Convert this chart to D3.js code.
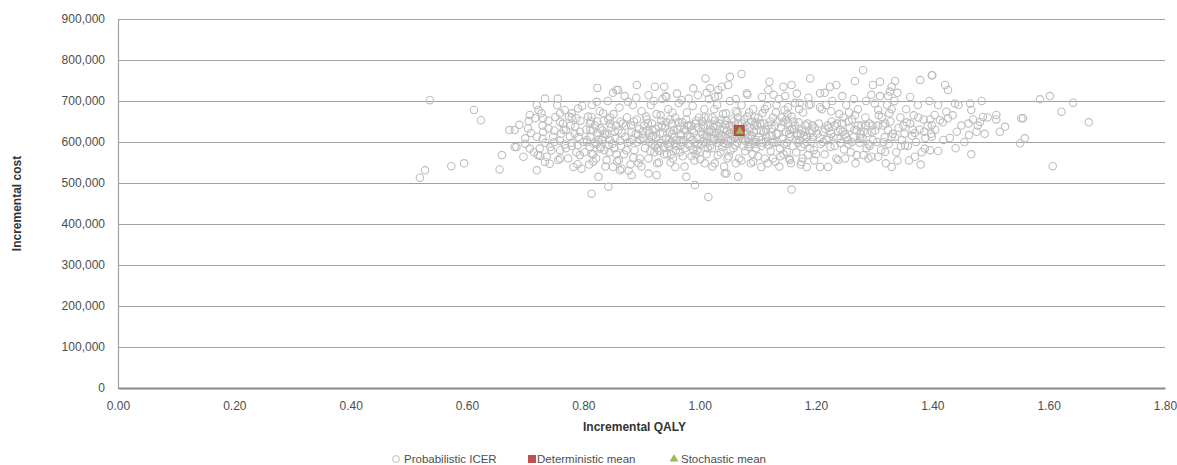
<!DOCTYPE html>
<html><head><meta charset="utf-8">
<script src="https://cdn.jsdelivr.net/npm/d3@7"></script>
<style>
body{margin:0;background:#fff}
svg{display:block}
text{font-family:"Liberation Sans",Arial,sans-serif}
</style>
</head><body>
<svg id="chart" width="1177" height="465"></svg>
<script>
// ---------- data ----------
const xTickValues = [0, 0.2, 0.4, 0.6, 0.8, 1.0, 1.2, 1.4, 1.6, 1.8];
const yTickValues = [0, 100000, 200000, 300000, 400000, 500000, 600000, 700000, 800000, 900000];
const xTitle = "Incremental QALY";
const yTitle = "Incremental cost";
const legendLabels = ["Probabilistic ICER", "Deterministic mean", "Stochastic mean"];

// probabilistic ICER samples: [incremental QALY, incremental cost in thousands]
const probabilisticSamples = [
[0.536,702],[0.612,678],[0.624,653],[0.673,629],[0.682,588],[0.66,568],[0.656,533],[0.595,548],[0.573,541],[0.528,531],[0.519,513],
[0.824,732],[0.734,706],[0.756,706],[0.823,698],[0.857,727],[0.708,666],[0.717,658],[0.723,678],[0.728,670],[0.731,658],[0.760,670],[0.768,678],[0.780,670],[0.791,682],[0.788,658],[0.760,649],[0.814,661],[0.834,670],[0.846,645],
[0.682,629],[0.705,633],[0.731,625],[0.740,633],[0.766,629],[0.786,637],[0.794,625],[0.811,645],[0.829,633],[0.837,621],[0.700,609],[0.720,613],[0.748,613],[0.777,613],[0.806,605],[0.820,600],[0.846,605],
[0.685,588],[0.708,584],[0.725,584],[0.743,588],[0.760,580],[0.780,590],[0.811,588],[0.829,584],[0.697,564],[0.722,568],[0.737,564],[0.757,556],[0.774,560],[0.794,568],[0.814,572],[0.840,556],
[0.720,531],[0.734,552],[0.783,539],[0.797,535],[0.817,552],[0.851,539],[0.826,515],[0.843,491],[0.814,474],[0.863,531],
[0.892,739],[0.923,735],[0.939,735],[0.860,727],[0.989,731],[1.010,755],[1.018,731],[1.032,727],[0.912,714],[0.943,710],[0.877,698],[0.969,702],[0.997,714],[1.026,710],
[1.015,466],[0.992,495],[0.977,515],[0.958,539],[0.926,519],[0.912,523],[0.883,519],[0.866,535],[0.897,560],[1.043,523],
[1.072,766],[1.052,759],[1.190,755],[1.120,747],[1.144,735],[1.158,739],[1.049,739],[1.038,735],[1.118,727],[1.207,719],[1.081,719],
[1.158,484],[1.106,539],[1.066,515],[1.046,523],[1.184,539],[1.207,539],[1.126,560],[1.155,556],[1.175,552],
[1.281,775],[1.267,749],[1.298,739],[1.310,747],[1.336,749],[1.330,735],[1.327,723],[1.324,712],[1.379,751],[1.399,763],[1.235,739],[1.224,735],[1.362,710],
[1.330,539],[1.370,564],[1.307,564],[1.319,576],[1.295,564],[1.270,568],[1.238,556],[1.221,539],[1.387,584],[1.353,592],[1.399,613],
[1.301,694],[1.307,678],[1.313,661],[1.319,645],[1.324,629],[1.330,613],
[1.400,763],[1.422,739],[1.427,727],[1.485,700],[1.465,694],[1.445,690],[1.439,694],[1.467,678],[1.424,674],[1.404,666],[1.487,661],[1.510,666],[1.510,655],[1.525,637],[1.553,658],[1.482,649],[1.462,645],[1.427,658],[1.413,653],[1.399,641],[1.442,625],[1.476,625],[1.516,625],[1.463,617],[1.419,605],[1.551,597],[1.559,609],[1.467,570],[1.396,580],
[1.585,704],[1.602,712],[1.642,696],[1.622,674],[1.556,658],[1.607,541],[1.669,648],
[0.69,642],[0.70,596],[0.71,622],[0.715,575],[0.72,690],[0.73,640],[0.735,598],[0.74,652],[0.745,579],[0.75,628],[0.755,690],[0.76,603],[0.765,645],[0.77,585],[0.775,662],[0.78,598],[0.785,620],[0.79,546],[0.795,652],[0.80,600],[0.742,547],[0.752,661],[0.768,594],[0.788,575],[0.798,688],[0.706,651],[0.726,566],[0.762,620],[0.778,640],[0.792,612],
[0.802,575],[0.805,630],[0.808,662],[0.81,545],[0.812,612],[0.815,690],[0.818,596],[0.82,640],[0.822,560],[0.825,622],[0.828,675],[0.83,588],[0.832,605],[0.835,652],[0.838,540],[0.84,618],[0.842,700],[0.845,575],[0.848,636],[0.85,596],[0.852,668],[0.855,610],[0.858,553],[0.86,628],[0.862,684],[0.865,590],[0.868,645],[0.87,570],[0.872,612],[0.875,660],[0.878,530],[0.88,600],[0.882,640],[0.885,690],[0.888,580],[0.89,620],[0.892,655],[0.895,548],[0.898,605],[0.90,675],[0.806,600],[0.816,628],[0.826,606],[0.836,580],[0.846,660],[0.856,640],[0.866,622],[0.876,598],[0.886,562],[0.896,632],[0.813,650],[0.833,628],[0.853,585],[0.873,640],[0.893,600],[0.823,595],[0.843,655],[0.863,603],[0.883,625],[0.851,720],[0.871,712],[0.891,708],[0.861,556],[0.881,545],
[0.902,610],[0.904,640],[0.906,585],[0.908,662],[0.91,628],[0.912,560],[0.914,600],[0.916,690],[0.918,645],[0.92,615],[0.922,575],[0.924,632],[0.926,668],[0.928,596],[0.93,550],[0.932,620],[0.934,652],[0.936,705],[0.938,588],[0.94,635],[0.942,608],[0.944,570],[0.946,680],[0.948,625],[0.95,598],[0.952,645],[0.954,560],[0.956,612],[0.958,660],[0.96,590],[0.962,630],[0.964,695],[0.966,575],[0.968,618],[0.97,648],[0.972,605],[0.974,540],[0.976,628],[0.978,672],[0.98,595],[0.982,640],[0.984,612],[0.986,565],[0.988,688],[0.99,622],[0.992,600],[0.994,652],[0.996,580],[0.998,635],
[0.905,603],[0.915,578],[0.925,610],[0.935,640],[0.945,595],[0.955,628],[0.965,605],[0.975,585],[0.985,640],[0.995,610],[0.909,655],[0.919,595],[0.929,638],[0.939,570],[0.949,655],[0.959,580],[0.969,600],[0.979,615],[0.989,580],[0.999,660],[0.913,622],[0.923,590],[0.933,598],[0.943,648],[0.953,620],[0.963,648],[0.973,630],[0.983,590],[0.993,570],[0.917,612],[0.927,548],[0.937,622],[0.947,606],[0.957,595],[0.967,638],[0.977,655],[0.987,605],[0.997,595],[0.921,700],[0.941,712],[0.961,718],[0.981,706],[0.931,578],[0.951,570],[0.971,565],[0.991,555],
[1.002,625],[1.004,650],[1.006,600],[1.008,680],[1.01,615],[1.012,570],[1.014,640],[1.016,705],[1.018,590],[1.02,630],[1.022,660],[1.024,608],[1.026,548],[1.028,622],[1.03,690],[1.032,598],[1.034,645],[1.036,575],[1.038,615],[1.04,668],[1.042,630],[1.044,595],[1.046,652],[1.048,560],[1.05,620],[1.052,700],[1.054,605],[1.056,640],[1.058,585],[1.06,612],[1.062,675],[1.064,598],[1.066,645],[1.068,560],[1.07,630],[1.072,690],[1.074,608],[1.076,655],[1.078,578],[1.08,620],[1.082,662],[1.084,600],[1.086,635],[1.088,548],[1.09,615],[1.092,680],[1.094,595],[1.096,648],[1.098,628],
[1.003,595],[1.013,612],[1.023,638],[1.033,622],[1.043,612],[1.053,580],[1.063,628],[1.073,645],[1.083,610],[1.093,625],[1.007,640],[1.017,625],[1.027,605],[1.037,655],[1.047,628],[1.057,618],[1.067,608],[1.077,635],[1.087,595],[1.097,605],[1.001,558],[1.011,598],[1.021,585],[1.031,568],[1.041,598],[1.051,640],[1.061,592],[1.071,615],[1.081,640],[1.091,570],[1.005,618],[1.015,660],[1.025,680],[1.035,632],[1.045,670],[1.055,655],[1.065,672],[1.075,590],[1.085,672],[1.095,660],[1.009,548],[1.019,610],[1.029,640],[1.039,588],[1.049,602],[1.059,650],[1.069,618],[1.079,602],[1.089,650],[1.099,640],[1.012,720],[1.032,712],[1.062,705],[1.082,715],[1.042,540],[1.062,548],[1.092,552],[1.022,540],[1.072,555],[1.097,585],
[1.102,612],[1.104,645],[1.106,590],[1.108,670],[1.11,625],[1.112,560],[1.114,600],[1.116,688],[1.118,640],[1.12,615],[1.122,578],[1.124,632],[1.126,660],[1.128,598],[1.13,552],[1.132,620],[1.134,650],[1.136,705],[1.138,585],[1.14,635],[1.142,608],[1.144,570],[1.146,678],[1.148,625],[1.15,598],[1.152,645],[1.154,560],[1.156,612],[1.158,662],[1.16,590],[1.162,630],[1.164,695],[1.166,575],[1.168,618],[1.17,648],[1.172,605],[1.174,545],[1.176,628],[1.178,672],[1.18,595],[1.182,640],[1.184,612],[1.186,568],[1.188,690],[1.19,622],[1.192,600],[1.194,640],[1.196,580],[1.198,635],
[1.105,628],[1.115,612],[1.125,600],[1.135,620],[1.145,595],[1.155,630],[1.165,605],[1.175,588],[1.185,645],[1.195,612],[1.109,598],[1.119,592],[1.129,640],[1.139,565],[1.149,655],[1.159,632],[1.169,598],[1.179,615],[1.189,585],[1.101,660],[1.111,645],[1.121,650],[1.131,672],[1.141,660],[1.151,668],[1.161,650],[1.171,680],[1.181,625],[1.191,692],[1.107,710],[1.127,715],[1.147,712],[1.167,718],[1.187,708],[1.117,548],[1.137,540],[1.157,548],[1.177,560],[1.197,555],
[1.202,620],[1.205,645],[1.208,595],[1.21,680],[1.212,625],[1.215,570],[1.218,605],[1.22,640],[1.222,635],[1.225,588],[1.228,700],[1.23,612],[1.232,640],[1.235,560],[1.238,625],[1.24,668],[1.242,598],[1.245,645],[1.248,582],[1.25,618],[1.252,690],[1.255,605],[1.258,635],[1.26,575],[1.262,655],[1.265,612],[1.268,548],[1.27,628],[1.272,680],[1.275,598],[1.278,640],[1.28,610],[1.282,568],[1.285,660],[1.288,622],[1.29,595],[1.292,645],[1.295,715],[1.298,605],[1.212,600],[1.222,610],[1.232,590],[1.242,630],[1.252,612],[1.262,600],[1.272,640],[1.282,625],[1.292,590],[1.207,685],[1.217,690],[1.227,650],[1.237,610],[1.247,660],[1.257,672],[1.267,665],[1.277,620],[1.287,585],[1.297,640],[1.215,720],[1.245,712],[1.265,705],
[1.302,628],[1.305,600],[1.308,665],[1.312,580],[1.315,640],[1.318,612],[1.322,690],[1.325,595],[1.328,650],[1.332,620],[1.335,700],[1.338,575],[1.342,635],[1.345,660],[1.348,605],[1.352,620],[1.355,680],[1.358,590],[1.362,645],[1.365,615],[1.368,665],[1.372,600],[1.375,690],[1.378,630],[1.382,575],[1.385,655],[1.388,610],[1.392,640],[1.395,700],[1.398,620],[1.31,712],[1.34,720],[1.36,555],[1.38,545],[1.32,548],[1.35,640],[1.37,622],
[1.405,630],[1.41,690],[1.418,648],[1.43,610],[1.435,665],[1.45,640],[1.455,600],[1.47,655],[1.478,640],[1.49,620],[1.495,660],[1.41,578],[1.44,585],
[0.903,626],[0.911,646],[0.919,630],[0.927,585],[0.933,665],[0.947,590],[0.953,672],[0.961,605],[0.967,590],[0.979,640],[0.987,630],[0.993,645],
[1.006,635],[1.014,585],[1.024,625],[1.034,610],[1.044,642],[1.054,630],[1.064,612],[1.076,622],[1.084,588],[1.094,640],[1.008,660],[1.026,652],[1.046,608],[1.066,660],[1.086,615],[1.096,600],
[1.106,605],[1.114,630],[1.124,615],[1.134,600],[1.144,648],[1.154,620],[1.164,640],[1.174,620],[1.184,600],[1.194,628],[1.112,680],[1.132,690],[1.152,685],[1.172,695],
[1.206,610],[1.216,632],[1.226,620],[1.236,645],[1.246,625],[1.256,595],[1.266,630],[1.276,610],[1.286,640],[1.296,625],[1.226,675],[1.256,650],[1.286,700],
[0.812,630],[0.824,650],[0.834,612],[0.844,592],[0.854,625],[0.864,650],[0.874,580],[0.884,605],[0.894,618],[0.817,570],[0.857,570],[0.887,650],
[0.75,600],[0.77,630],[0.79,592],[0.73,608],[0.76,560],[0.78,660],
[1.306,640],[1.316,600],[1.326,670],[1.336,612],[1.346,590],[1.356,648],[1.366,630],[1.376,660],[1.386,625],[1.396,655],
[1.33,680],[1.34,555],[1.29,560],[1.25,560],[1.2,570],[1.15,575],[1.1,565],[1.05,565],[1.0,575],[0.95,550],[0.9,540]
];
const deterministicMean = [[1.068, 628]];
const stochasticMean = [[1.069, 626]];

// ---------- layout ----------
const svg = d3.select("#chart");
const plotLeft = 118, plotRight = 1165, plotTop = 19, plotBottom = 388;
const x = d3.scaleLinear().domain([0, 1.8]).range([plotLeft, plotRight]);
const y = d3.scaleLinear().domain([0, 900000]).range([plotBottom, plotTop]);
const labelColor = "#4d4d4d";

// y axis with gridlines
const yAxis = svg.append("g").attr("transform", `translate(${plotLeft},0)`)
  .call(d3.axisLeft(y).tickValues(yTickValues).tickSize(-(plotRight - plotLeft)).tickSizeOuter(0)
    .tickPadding(13).tickFormat(d3.format(",")));
yAxis.select(".domain").attr("stroke", "#a0a0a0").attr("stroke-width", 1.2);
yAxis.selectAll(".tick line").attr("stroke", "#a0a0a0").attr("stroke-width", 1.2);
yAxis.selectAll(".tick text").attr("fill", labelColor).attr("font-size", 12)
  .attr("font-family", "'Liberation Sans', Arial, sans-serif");

// x axis
const xAxis = svg.append("g").attr("transform", `translate(0,${plotBottom})`)
  .call(d3.axisBottom(x).tickValues(xTickValues).tickSize(0).tickSizeOuter(0)
    .tickPadding(13).tickFormat(d3.format(".2f")));
xAxis.select(".domain").attr("stroke", "#8a8a8a").attr("stroke-width", 1.8);
xAxis.selectAll(".tick text").attr("fill", labelColor).attr("font-size", 12)
  .attr("font-family", "'Liberation Sans', Arial, sans-serif");

// titles
svg.append("text").attr("x", (plotLeft + plotRight) / 2 - 7).attr("y", 431)
  .attr("text-anchor", "middle").attr("font-size", 12).attr("font-weight", "bold")
  .attr("fill", "#333").text(xTitle);
svg.append("text").attr("transform", `translate(21,${(plotTop + plotBottom) / 2}) rotate(-90)`)
  .attr("text-anchor", "middle").attr("font-size", 12).attr("font-weight", "bold")
  .attr("fill", "#333").text(yTitle);

// points
svg.append("g").selectAll("circle").data(probabilisticSamples).join("circle")
  .attr("cx", d => x(d[0])).attr("cy", d => y(d[1] * 1000)).attr("r", 3.7)
  .attr("fill", "none").attr("stroke", "#bdbdbd").attr("stroke-width", 1.1);

svg.append("g").selectAll("rect").data(deterministicMean).join("rect")
  .attr("x", d => x(d[0]) - 5).attr("y", d => y(d[1] * 1000) - 5)
  .attr("width", 10).attr("height", 10).attr("fill", "#c0504d").attr("stroke", "#a03c3a").attr("stroke-width", 0.8);

const tri = d3.symbol().type(d3.symbolTriangle).size(30);
svg.append("g").selectAll("path").data(stochasticMean).join("path")
  .attr("transform", d => `translate(${x(d[0])},${y(d[1] * 1000)})`)
  .attr("d", tri).attr("fill", "#9bbb59");

// legend
const ly = 459;
const lg = svg.append("g");
lg.append("circle").attr("cx", 396).attr("cy", ly).attr("r", 3.4).attr("fill", "none").attr("stroke", "#bdbdbd");
lg.append("text").attr("x", 404).attr("y", ly + 4).attr("font-size", 11.5).attr("fill", labelColor).text(legendLabels[0]);
lg.append("rect").attr("x", 528).attr("y", ly - 4).attr("width", 8).attr("height", 8).attr("fill", "#c0504d");
lg.append("text").attr("x", 537).attr("y", ly + 4).attr("font-size", 11.5).attr("fill", labelColor).text(legendLabels[1]);
lg.append("path").attr("transform", `translate(674,${ly})`).attr("d", d3.symbol().type(d3.symbolTriangle).size(34)).attr("fill", "#9bbb59");
lg.append("text").attr("x", 681).attr("y", ly + 4).attr("font-size", 11.5).attr("fill", labelColor).text(legendLabels[2]);
</script>
</body></html>
